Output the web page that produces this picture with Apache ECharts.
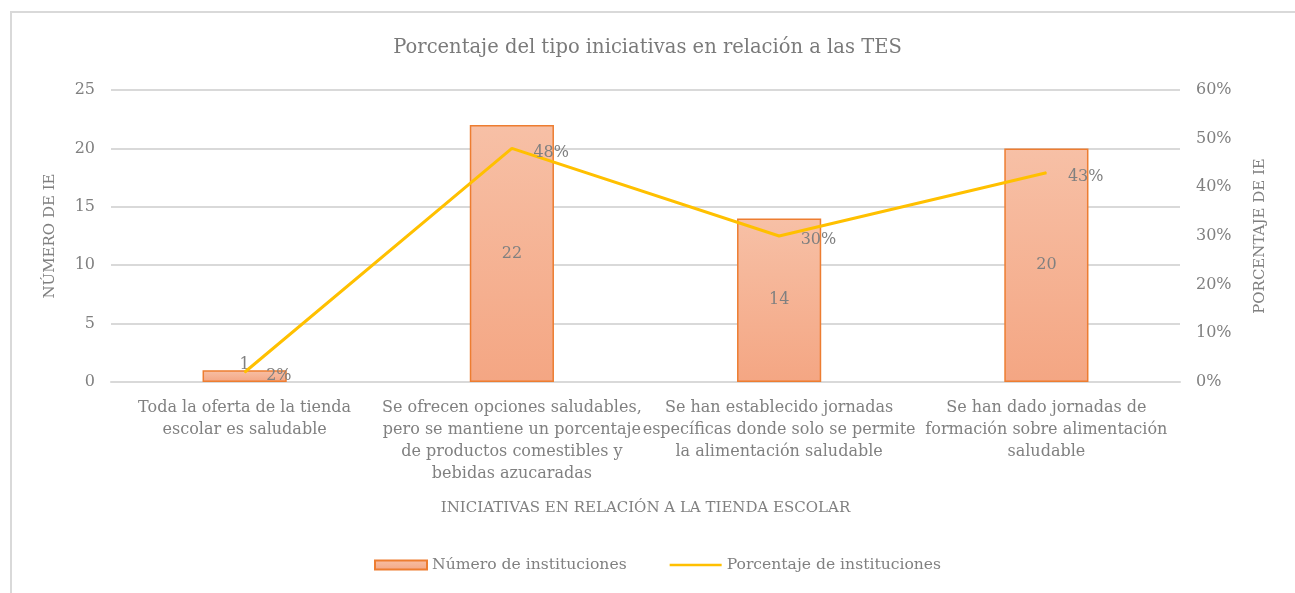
<!DOCTYPE html>
<html>
<head>
<meta charset="utf-8">
<script src="https://cdn.jsdelivr.net/npm/echarts@6/dist/echarts.min.js"></script>
<style>
  html, body { margin: 0; padding: 0; background: #fff; }
  #main { width: 1295px; height: 593px; }
</style>
</head>
<body>
<div id="main"></div>
<script>
  // datos
  var categorias = [
    'Toda la oferta de la tienda\nescolar es saludable',
    'Se ofrecen opciones saludables,\npero se mantiene un porcentaje\nde productos comestibles y\nbebidas azucaradas',
    'Se han establecido jornadas\nespecíficas donde solo se permite\nla alimentación saludable',
    'Se han dado jornadas de\nformación sobre alimentación\nsaludable'
  ];
  var numeroInstituciones = [1, 22, 14, 20];
  var porcentajeInstituciones = [2, 48, 30, 43];

  var fuente = 'DejaVu Serif';
  var gris = '#808080';

  var chart = echarts.init(document.getElementById('main'));
  var option = {
    backgroundColor: '#fff',
    textStyle: { fontFamily: fuente, color: gris },
    graphic: [{
      type: 'rect',
      shape: { x: 11, y: 12, width: 1400, height: 700 },
      style: { fill: 'none', stroke: '#D9D9D9', lineWidth: 2 },
      silent: true
    }],
    title: {
      text: 'Porcentaje del tipo iniciativas en relación a las TES',
      left: 'center',
      top: 33,
      textStyle: { fontFamily: fuente, fontWeight: 'normal', fontSize: 19.5, color: '#7a7a7a' }
    },
    legend: {
      bottom: 15,
      left: 369,
      itemWidth: 52,
      itemHeight: 9,
      itemGap: 43,
      textStyle: { fontFamily: fuente, fontSize: 15.6, color: gris },
      data: [
        { name: 'Número de instituciones', icon: 'rect' },
        { name: 'Porcentaje de instituciones', icon: 'path://M0,0 M0,9 M0,3.2 L52,3.2 L52,5.8 L0,5.8 Z' }
      ]
    },
    grid: { left: 111, right: 115, top: 90, bottom: 211 },
    xAxis: {
      type: 'category',
      data: categorias,
      name: 'INICIATIVAS EN RELACIÓN A LA TIENDA ESCOLAR',
      nameLocation: 'middle',
      nameGap: 119,
      nameTextStyle: { fontFamily: fuente, fontSize: 15, color: gris },
      axisLine: { lineStyle: { color: '#D9D9D9', width: 2 } },
      axisTick: { show: false },
      axisLabel: { interval: 0, fontFamily: fuente, fontSize: 16, color: gris, lineHeight: 22, margin: 15 }
    },
    yAxis: [{
      type: 'value',
      min: 0, max: 25, interval: 5,
      name: 'NÚMERO DE IE',
      nameLocation: 'middle',
      nameRotate: 90,
      nameGap: 53,
      nameTextStyle: { fontFamily: fuente, fontSize: 15, color: gris },
      axisLine: { show: false },
      axisTick: { show: false },
      axisLabel: { fontFamily: fuente, fontSize: 16, color: gris, margin: 16 },
      splitLine: { lineStyle: { color: '#D9D9D9', width: 2 } }
    }, {
      type: 'value',
      min: 0, max: 60, interval: 10,
      name: 'PORCENTAJE DE IE',
      nameLocation: 'middle',
      nameRotate: 90,
      nameGap: 73,
      nameTextStyle: { fontFamily: fuente, fontSize: 15, color: gris },
      axisLine: { show: false },
      axisTick: { show: false },
      axisLabel: { fontFamily: fuente, fontSize: 16, color: gris, margin: 16, formatter: '{value}%' },
      splitLine: { show: false }
    }],
    series: [{
      name: 'Número de instituciones',
      type: 'bar',
      data: numeroInstituciones.map(function (v) {
        // la barra pequena lleva la etiqueta encima
        return { value: v, label: { position: v < 3 ? 'top' : 'inside' } };
      }),
      barWidth: '31.5%',
      itemStyle: {
        color: new echarts.graphic.LinearGradient(0, 0, 0, 1, [
          { offset: 0, color: '#F7C0A6' },
          { offset: 1, color: '#F4A683' }
        ]),
        borderColor: '#ED7D31',
        borderWidth: 1.5
      },
      label: {
        show: true,
        position: 'inside',
        fontFamily: fuente, fontSize: 16, color: gris, distance: -3
      }
    }, {
      name: 'Porcentaje de instituciones',
      type: 'line',
      yAxisIndex: 1,
      data: porcentajeInstituciones,
      symbol: 'circle',
      symbolSize: 1,
      lineStyle: { color: '#FFC000', width: 3 },
      itemStyle: { color: '#FFC000' },
      label: {
        show: true,
        position: 'right',
        distance: 21,
        offset: [0, 4],
        fontFamily: fuente, fontSize: 16, color: gris,
        formatter: '{c}%'
      },
      z: 3
    }]
  };
  chart.setOption(option);
</script>
</body>
</html>
